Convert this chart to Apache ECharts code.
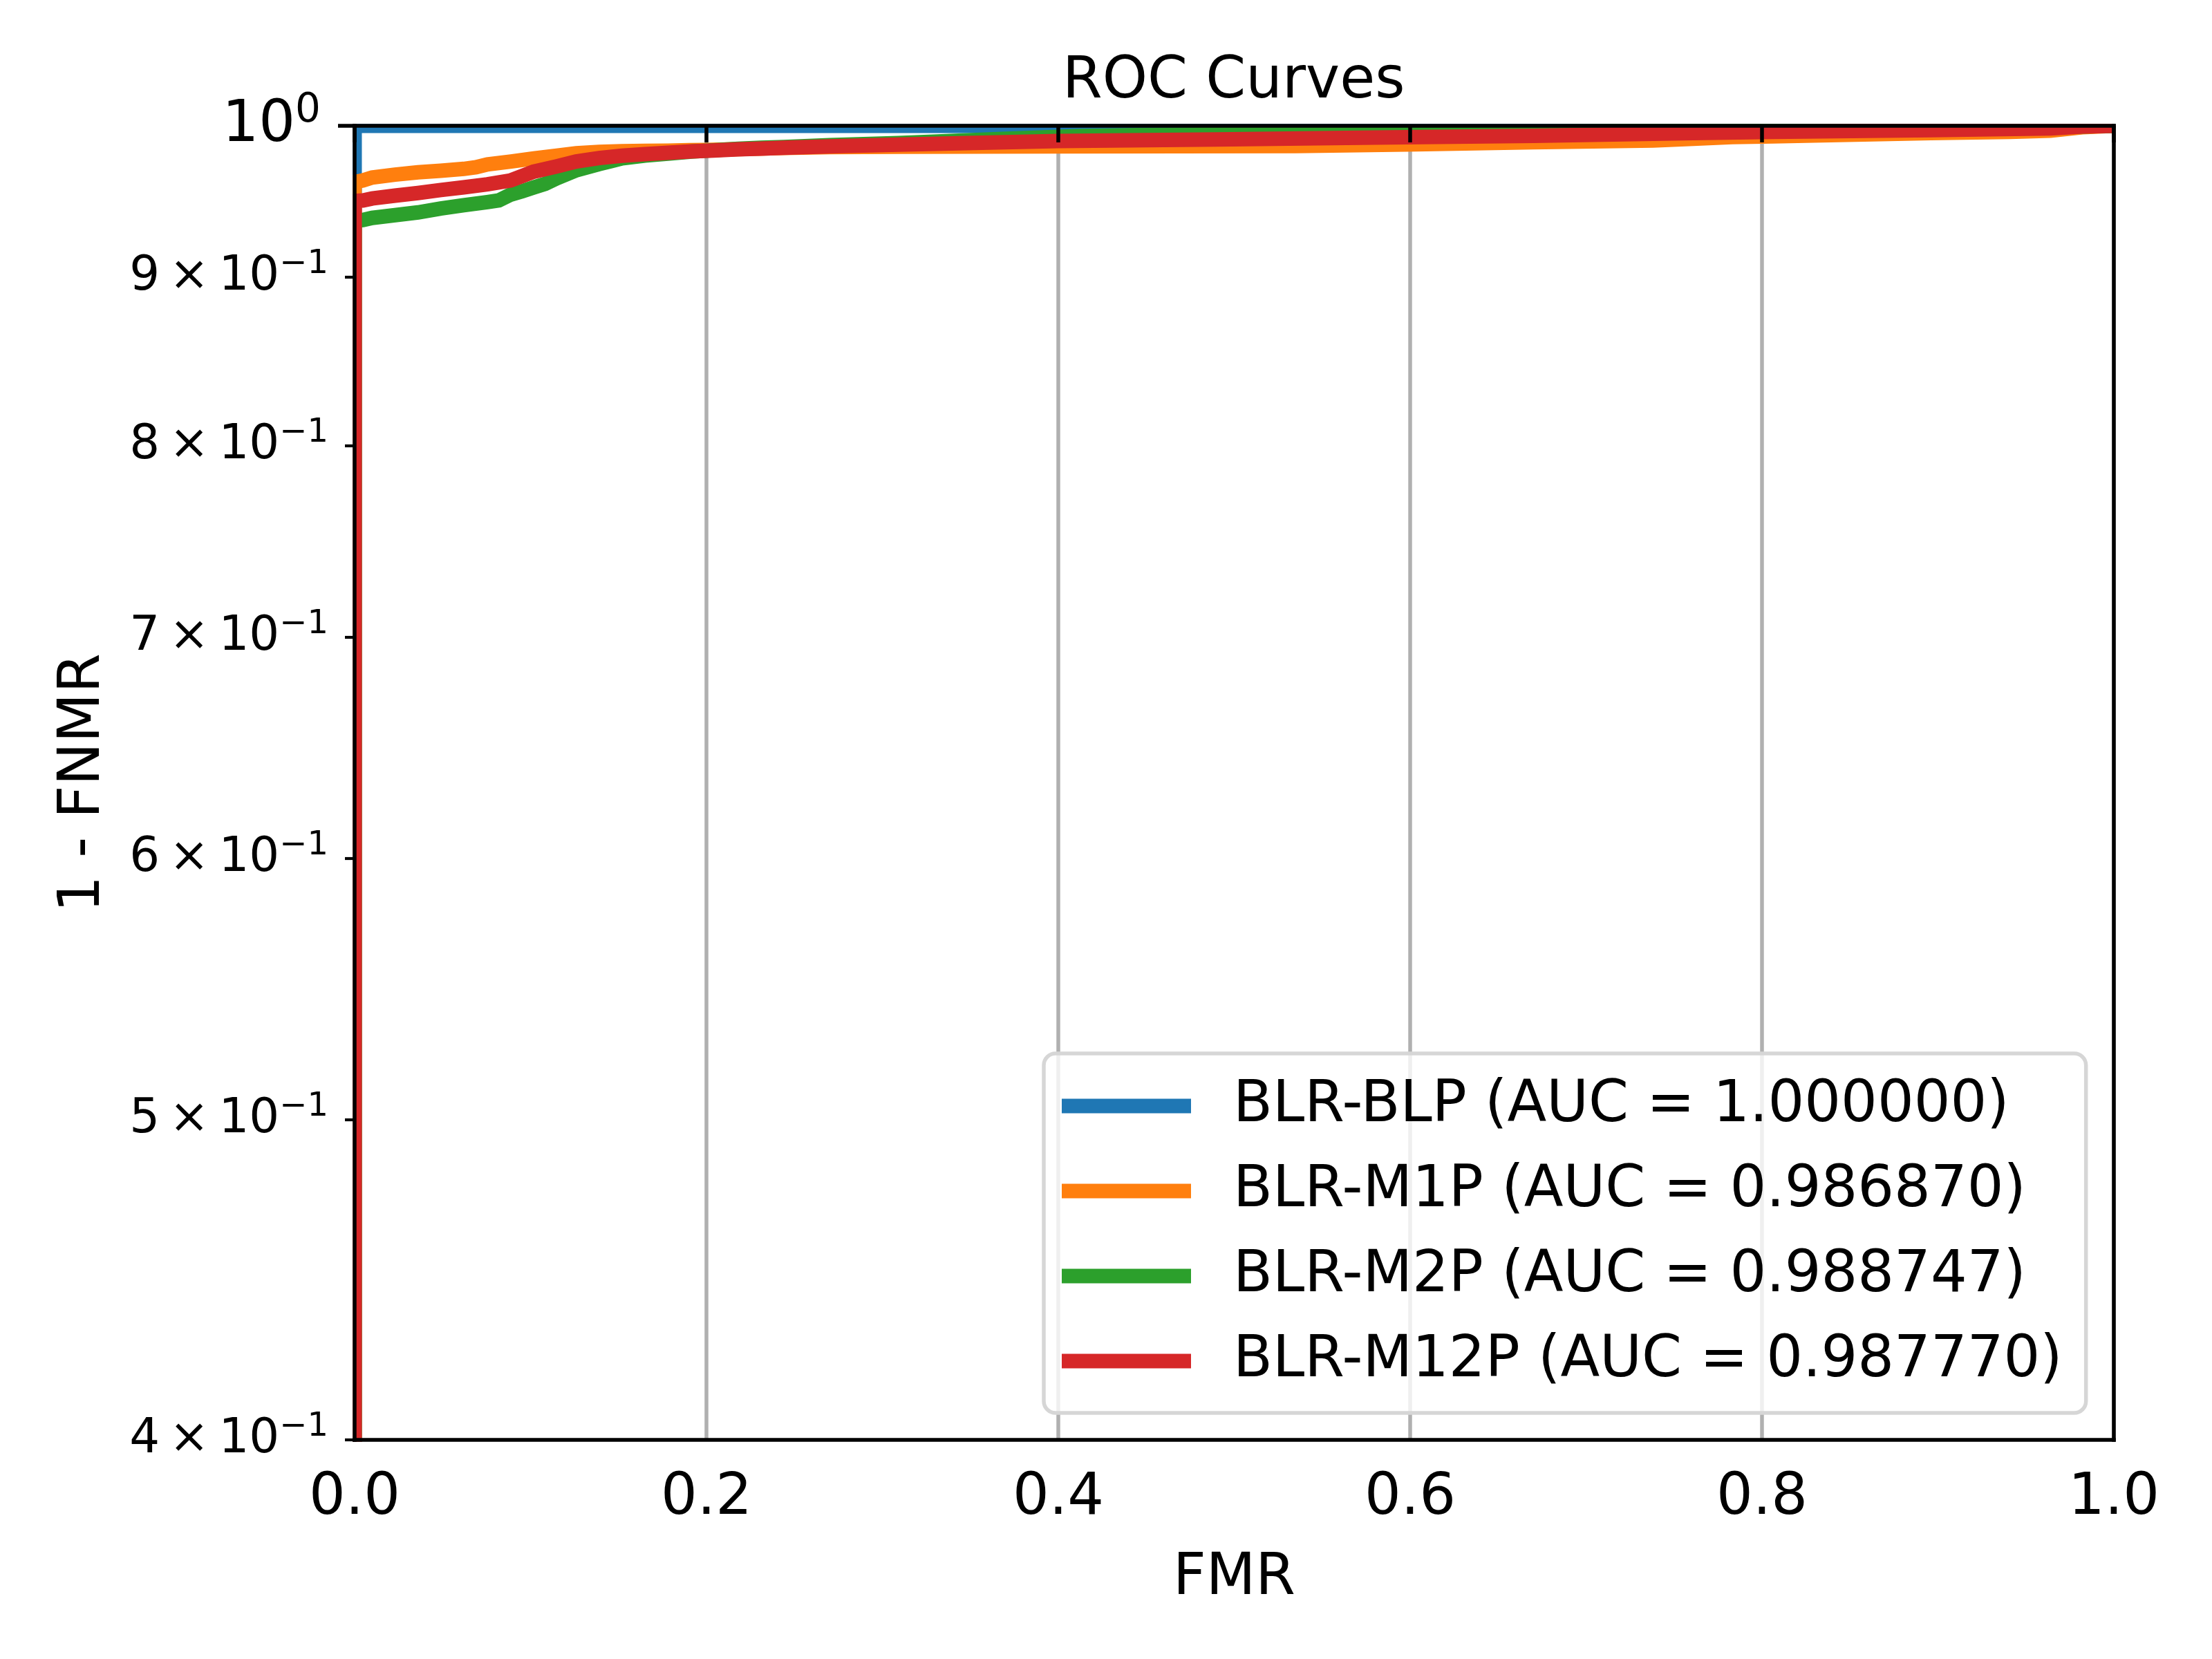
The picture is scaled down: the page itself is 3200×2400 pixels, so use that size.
<!DOCTYPE html>
<html>
<head>
<meta charset="utf-8">
<title>ROC Curves</title>
<script src="https://cdn.jsdelivr.net/npm/echarts@6/dist/echarts.min.js"></script>
<style>
body{margin:0;background:#fff;}
#main{width:3200px;height:2400px;}
</style>
</head>
<body>
<div id="main"></div>
<script>
// series names (legend)
var seriesNames = [
    'BLR-BLP (AUC = 1.000000)',
    'BLR-M1P (AUC = 0.986870)',
    'BLR-M2P (AUC = 0.988747)',
    'BLR-M12P (AUC = 0.987770)'
];
var colors = ['#1f77b4', '#ff7f0e', '#2ca02c', '#d62728'];

// BLR-BLP
var fmrBLP = [0, 0, 1];
var tprBLP = [0, 1, 1];

// BLR-M1P
var fmrM1P = [0, 0, 0.0047, 0.010, 0.023, 0.036, 0.049, 0.062, 0.069, 0.0755, 0.089, 0.102, 0.115, 0.126, 0.139, 0.152, 0.165, 0.178, 0.19, 0.2,
    0.244, 0.27, 0.309, 0.4, 0.535, 0.598, 0.67, 0.738, 0.761, 0.783, 0.806, 0.896, 0.941, 0.964, 0.982, 1.0];
var tprM1P = [0, 0.9615, 0.9626, 0.9646, 0.9665, 0.9681, 0.9692, 0.9704, 0.9715, 0.9735, 0.9754, 0.9775, 0.9794, 0.9810, 0.9820, 0.9825, 0.9827, 0.9828, 0.9831, 0.9833,
    0.9847, 0.9853, 0.9855, 0.9858, 0.9860, 0.9871, 0.9886, 0.9898, 0.9910, 0.9922, 0.9927, 0.9950, 0.9958, 0.9966, 0.9990, 1.0];

// BLR-M2P
var fmrM2P = [0, 0, 0.0047, 0.010, 0.023, 0.036, 0.049, 0.062, 0.0755, 0.082, 0.0886, 0.0952, 0.1017, 0.1083, 0.1148, 0.126, 0.139, 0.1455, 0.152,
    0.165, 0.178, 0.1915, 0.204, 0.218, 0.231, 0.244, 0.27, 0.309, 0.368, 0.413, 0.45, 0.5, 0.6, 0.7, 0.8, 0.9, 0.98, 1.0];
var tprM2P = [0, 0.936, 0.9364, 0.9378, 0.9396, 0.9414, 0.9440, 0.9461, 0.9482, 0.9493, 0.9531, 0.9554, 0.9579, 0.9603, 0.9640, 0.9695, 0.9737, 0.9756, 0.9776,
    0.9795, 0.9808, 0.9822, 0.9831, 0.9841, 0.9848, 0.9853, 0.9866, 0.9880, 0.9909, 0.9929, 0.9936, 0.9942, 0.9952, 0.9962, 0.9972, 0.9983, 0.9995, 1.0];

// BLR-M12P
var fmrM12P = [0, 0, 0.0047, 0.010, 0.023, 0.036, 0.049, 0.062, 0.0755, 0.0886, 0.1017, 0.1148, 0.126, 0.139, 0.152, 0.165, 0.178, 0.1915, 0.204,
    0.218, 0.231, 0.244, 0.27, 0.309, 0.4, 0.49, 0.58, 0.67, 0.761, 0.806, 0.896, 0.964, 0.982, 1.0];
var tprM12P = [0, 0.949, 0.9493, 0.9506, 0.9525, 0.9542, 0.9562, 0.9580, 0.9600, 0.9626, 0.9685, 0.9721, 0.9754, 0.9778, 0.9794, 0.9804, 0.9814, 0.9823, 0.9829,
    0.9837, 0.9842, 0.9848, 0.9858, 0.9870, 0.9895, 0.9905, 0.9918, 0.9930, 0.9950, 0.9958, 0.9970, 0.9982, 0.9995, 1.0];

// axis ticks
var xMin = 0, xMax = 1, xStep = 0.2;
var yMin = 0.4, yMax = 1;
var yMinorTicks = [0.4, 0.5, 0.6, 0.7, 0.8, 0.9];
var yMajorTicks = [1];

var FONT = 'DejaVu Sans';
// plot box in px
var box = {left: 513, right: 3058, top: 182, bottom: 2083};
var LW = 21;      // curve width
var SPINE = 5.5;  // frame width

// log axis cannot take 0, clip it like matplotlib does
function toPairs(xs, ys) {
    var out = [];
    for (var i = 0; i < xs.length; i++) {
        out.push([xs[i], Math.max(ys[i], 1e-3)]);
    }
    return out;
}

function spine(pos) {
    return {
        type: 'value', min: 0, max: 1, position: pos, z: 10,
        axisLine: {show: true, lineStyle: {color: '#000', width: SPINE, cap: 'square'}},
        axisTick: {show: false}, axisLabel: {show: false}, splitLine: {show: false}
    };
}

// echarts widens the clip by half a line width, hide that overflow
function masks() {
    var pad = LW / 2 + 2, inner = SPINE / 2;
    var w = box.right - box.left, h = box.bottom - box.top;
    var list = [
        [box.left - pad, box.top - pad, w + 2 * pad, pad - inner],
        [box.left - pad, box.bottom + inner, w + 2 * pad, pad - inner],
        [box.left - pad, box.top - pad, pad - inner, h + 2 * pad],
        [box.right + inner, box.top - pad, pad - inner, h + 2 * pad]
    ];
    return list.map(function (r) {
        return {type: 'rect', z: 5, silent: true,
            shape: {x: r[0], y: r[1], width: r[2], height: r[3]},
            style: {fill: '#fff'}};
    });
}

var curves = [[fmrBLP, tprBLP], [fmrM1P, tprM1P], [fmrM2P, tprM2P], [fmrM12P, tprM12P]];
var series = [];
for (var i = 0; i < curves.length; i++) {
    series.push({
        name: seriesNames[i],
        type: 'line',
        xAxisIndex: 0,
        yAxisIndex: 0,
        showSymbol: false,
        symbol: 'none',
        clip: true,
        lineStyle: {width: LW, color: colors[i], cap: 'butt', join: 'miter'},
        data: toPairs(curves[i][0], curves[i][1])
    });
}

var myChart = echarts.init(document.getElementById('main'));
myChart.setOption({
    animation: false,
    backgroundColor: '#fff',
    color: colors,
    textStyle: {fontFamily: FONT},
    title: {
        text: 'ROC Curves',
        left: 1537, top: 78, padding: 0,
        textStyle: {fontSize: 83, fontWeight: 'normal', color: '#000', fontFamily: FONT}
    },
    grid: {left: box.left, right: 3200 - box.right, top: box.top, bottom: 2400 - box.bottom, containLabel: false},
    graphic: masks(),
    legend: {
        orient: 'vertical', left: 1510, top: 1524,
        padding: [26, 34, 25, 26],
        itemWidth: 187, itemHeight: 21, itemGap: 23,
        icon: 'rect',
        backgroundColor: 'rgba(255,255,255,0.8)',
        borderColor: '#d6d6d6', borderWidth: 5.5, borderRadius: 17,
        textStyle: {fontSize: 83, lineHeight: 100, color: '#000', fontFamily: FONT, padding: [0, 0, 0, 56]},
        data: seriesNames
    },
    xAxis: [
        {
            // grid lines only
            type: 'value', min: xMin, max: xMax, interval: xStep, position: 'bottom',
            axisLine: {show: false}, axisTick: {show: false}, axisLabel: {show: false},
            splitLine: {show: true, lineStyle: {color: '#b0b0b0', width: 5.5}}
        },
        {
            type: 'value', min: xMin, max: xMax, interval: xStep, position: 'bottom', z: 10,
            name: 'FMR', nameLocation: 'middle', nameGap: 160,
            nameTextStyle: {fontSize: 83, color: '#000', fontFamily: FONT},
            axisLine: {show: true, lineStyle: {color: '#000', width: SPINE, cap: 'square'}},
            axisTick: {length: 24, lineStyle: {color: '#000', width: 5.5}},
            axisLabel: {fontSize: 83, color: '#000', margin: 44, fontFamily: FONT,
                formatter: function (v) { return v.toFixed(1); }},
            splitLine: {show: false}
        },
        spine('top')
    ],
    yAxis: [
        {
            type: 'log', logBase: 10, min: yMin, max: yMax, position: 'left', z: 10,
            name: '1 - FNMR', nameLocation: 'middle', nameGap: 350,
            nameTextStyle: {fontSize: 83, color: '#000', fontFamily: FONT},
            axisLine: {show: true, lineStyle: {color: '#000', width: SPINE, cap: 'square'}},
            axisTick: {show: false}, axisLabel: {show: false}, splitLine: {show: false}
        },
        {
            // minor ticks 4x10^-1 ... 9x10^-1
            type: 'value', min: Math.log10(yMin), max: Math.log10(yMax), position: 'left', z: 10,
            axisLine: {show: false},
            axisTick: {customValues: yMinorTicks.map(Math.log10), length: 14, lineStyle: {color: '#000', width: 4.2}},
            axisLabel: {
                customValues: yMinorTicks.map(Math.log10), color: '#000', margin: 38, fontFamily: FONT,
                formatter: function (v) {
                    var m = Math.round(Math.pow(10, v) * 10);
                    return '{m|' + m + '\u2009\u00d7\u200910}{s|\u22121}';
                },
                rich: {
                    m: {fontSize: 69, lineHeight: 85, verticalAlign: 'middle', fontFamily: FONT, color: '#000'},
                    s: {fontSize: 48, lineHeight: 48, verticalAlign: 'top', fontFamily: FONT, color: '#000'}
                }
            },
            splitLine: {show: false}
        },
        {
            // major tick 10^0
            type: 'value', min: Math.log10(yMin), max: Math.log10(yMax), position: 'left', z: 10,
            axisLine: {show: false},
            axisTick: {customValues: yMajorTicks.map(Math.log10), length: 24, lineStyle: {color: '#000', width: 5.5}},
            axisLabel: {
                customValues: yMajorTicks.map(Math.log10), color: '#000', margin: 49, fontFamily: FONT,
                formatter: function (v) { return '{m|10}{s|0}'; },
                rich: {
                    m: {fontSize: 83, lineHeight: 101, verticalAlign: 'middle', fontFamily: FONT, color: '#000'},
                    s: {fontSize: 58, lineHeight: 58, verticalAlign: 'top', fontFamily: FONT, color: '#000'}
                }
            },
            splitLine: {show: false}
        },
        spine('right')
    ],
    series: series
});
</script>
</body>
</html>
